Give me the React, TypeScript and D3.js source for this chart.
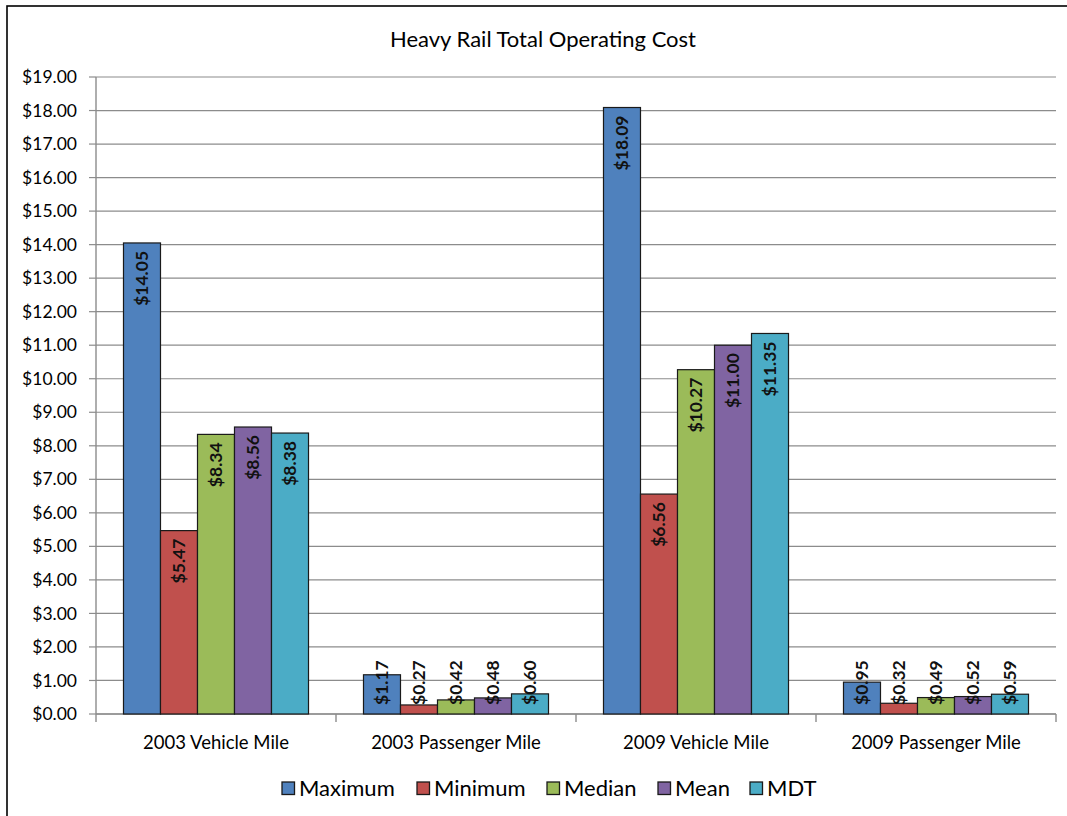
import React from "react";
import * as d3 from "d3";

const categories = ["2003 Vehicle Mile", "2003 Passenger Mile", "2009 Vehicle Mile", "2009 Passenger Mile"];
const seriesNames = ["Maximum", "Minimum", "Median", "Mean", "MDT"];
const seriesColors = ["#4F81BD", "#C0504D", "#9BBB59", "#8064A2", "#4BACC6"];
const maximum = [14.05, 1.17, 18.09, 0.95];
const minimum = [5.47, 0.27, 6.56, 0.32];
const median = [8.34, 0.42, 10.27, 0.49];
const mean = [8.56, 0.48, 11.0, 0.52];
const mdt = [8.38, 0.6, 11.35, 0.59];
const yTicks = d3.range(0, 20, 1);
const legendX = [282, 417, 547, 658, 750];

const seriesValues = [maximum, minimum, median, mean, mdt];

export default function App() {
  const W = 1067, H = 816;
  const left = 96, right = 1056, top = 77, bottom = 714;
  const y = d3.scaleLinear().domain([0, 19]).range([bottom, top]);
  const x0 = d3.scaleBand<string>().domain(categories).range([left, right]).paddingInner(0).paddingOuter(0);
  const inner = d3.scaleBand<string>().domain(seriesNames).range([0, x0.bandwidth()]).paddingInner(0).paddingOuter(0.743);
  const font = "Lato, 'Open Sans', sans-serif";
  const fmt = (v: number) => "$" + v.toFixed(2);

  return (
    <svg width={W} height={H} style={{ position: "absolute", left: 0, top: 0, background: "#fff" }} fontFamily={font}>
      <rect x={7} y={6} width={W + 10} height={H + 10} fill="#fff" stroke="#000" strokeWidth={1.6} />
      <text x={543} y={47} textAnchor="middle" fontSize={22} fill="#000">Heavy Rail Total Operating Cost</text>
      {yTicks.map((t) => (
        <g key={t}>
          <line x1={left} x2={right} y1={y(t)} y2={y(t)} stroke="#8c8c8c" strokeWidth={1.2} />
          <line x1={89} x2={left} y1={y(t)} y2={y(t)} stroke="#8c8c8c" strokeWidth={1.2} />
          <text x={77} y={y(t)} dy="0.35em" textAnchor="end" fontSize={17.5} fill="#000">{fmt(t)}</text>
        </g>
      ))}
      <line x1={left} x2={left} y1={top} y2={722} stroke="#8c8c8c" strokeWidth={1.4} />
      <line x1={left} x2={right} y1={bottom} y2={bottom} stroke="#8c8c8c" strokeWidth={1.4} />
      {categories.map((c) => (
        <line key={c} x1={x0(c)! + x0.bandwidth()} x2={x0(c)! + x0.bandwidth()} y1={bottom} y2={722} stroke="#8c8c8c" strokeWidth={1.4} />
      ))}
      {categories.map((c, ci) => (
        <g key={c}>
          {seriesNames.map((s, si) => {
            const v = seriesValues[si][ci];
            const bx = x0(c)! + inner(s)!;
            const bw = inner.bandwidth();
            const by = y(v);
            const label = fmt(v);
            const est = label.length * 10.7;
            const fits = by + 8 + est < bottom - 9;
            const lx = bx + bw / 2;
            const ly = fits ? by + 8 : bottom - 9;
            return (
              <g key={s}>
                <rect x={bx} y={by} width={bw} height={bottom - by} fill={seriesColors[si]} stroke="#1a1a1a" strokeWidth={1.2} />
                <text transform={`translate(${lx},${ly}) rotate(-90)`} textAnchor={fits ? "end" : "start"} dy="0.36em" fontSize={17.5} fontWeight="bold" fill="#111">{label}</text>
              </g>
            );
          })}
          <text x={x0(c)! + x0.bandwidth() / 2} y={743} dy="0.35em" textAnchor="middle" fontSize={18.5} fill="#000">{c}</text>
        </g>
      ))}
      {seriesNames.map((s, i) => (
        <g key={s}>
          <rect x={legendX[i]} y={782} width={12.5} height={12.5} fill={seriesColors[i]} stroke="#1a1a1a" strokeWidth={1.3} />
          <text x={legendX[i] + 17} y={788} dy="0.36em" fontSize={22} fill="#000">{s}</text>
        </g>
      ))}
    </svg>
  );
}
